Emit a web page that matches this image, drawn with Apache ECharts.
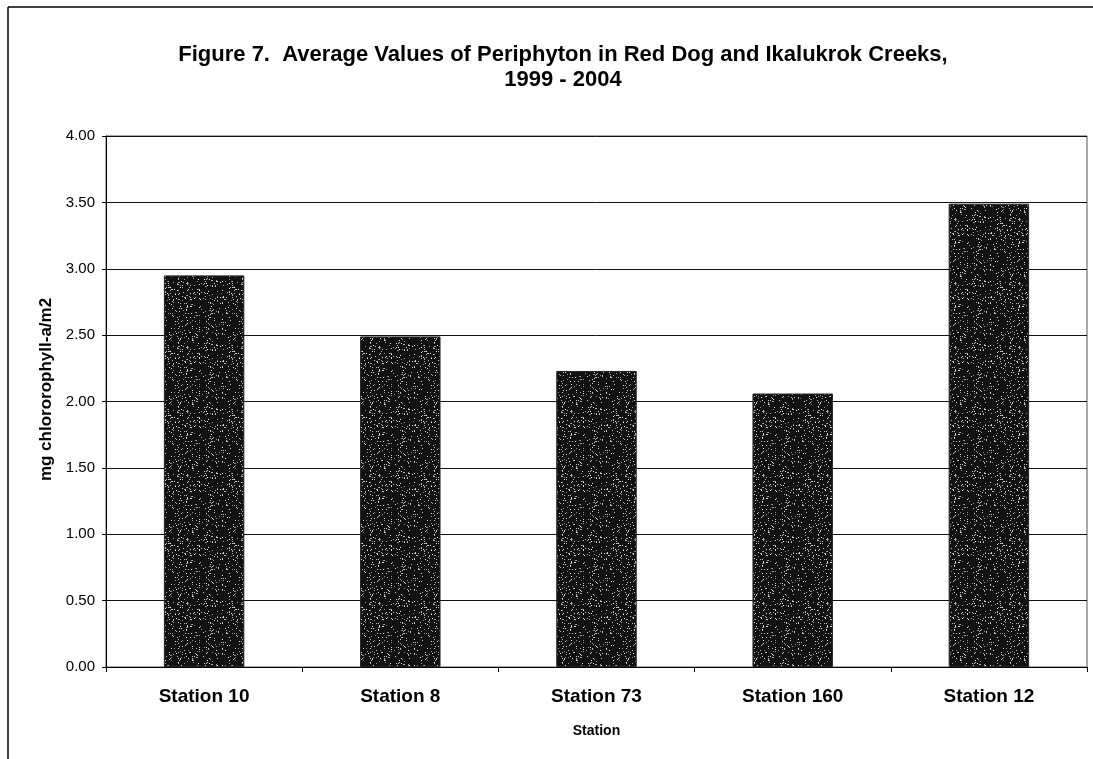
<!DOCTYPE html>
<html>
<head>
<meta charset="utf-8">
<script src="https://cdn.jsdelivr.net/npm/echarts@6/dist/echarts.min.js"></script>
<style>
  html, body { margin: 0; padding: 0; background: #fff; }
  #chart { width: 1093px; height: 759px; }
</style>
</head>
<body>
<div id="chart"></div>
<script>
// Average periphyton (mg chlorophyll-a/m2) per station, 1999 - 2004
const stations = ['Station 10', 'Station 8', 'Station 73', 'Station 160', 'Station 12'];
const avgChlorophyll = [2.95, 2.49, 2.23, 2.06, 3.49];
const titleLines = ['Figure 7.  Average Values of Periphyton in Red Dog and Ikalukrok Creeks,', '1999 - 2004'];

// Stippled dark fill for the bars
function stippleTile() {
  const size = 64;
  const c = document.createElement('canvas');
  c.width = size; c.height = size;
  const ctx = c.getContext('2d');
  ctx.fillStyle = '#121212';
  ctx.fillRect(0, 0, size, size);
  let s = 12345;
  const next = () => { s = (s * 1103515245 + 12345) % 2147483648; return s / 2147483648; };
  for (let i = 0; i < 380; i++) {
    const x = Math.floor(next() * size);
    const y = Math.floor(next() * size);
    const g = 130 + Math.floor(next() * 110);
    ctx.fillStyle = 'rgb(' + g + ',' + g + ',' + g + ')';
    ctx.fillRect(x, y, 1, 1);
  }
  return c;
}

const font = '"Liberation Sans", Arial, sans-serif';
const titleStyle = { fontFamily: font, fontWeight: 'bold', fontSize: 22, color: '#000' };
const chart = echarts.init(document.getElementById('chart'), null, { renderer: 'canvas' });

chart.setOption({
  backgroundColor: '#fff',
  animation: false,
  title: [
    { text: titleLines[0], left: 558, textAlign: 'center', top: 39, textStyle: titleStyle },
    { text: titleLines[1], left: 558, textAlign: 'center', top: 64, textStyle: titleStyle }
  ],
  grid: { left: 106, right: 6, top: 136, bottom: 92, show: true, borderColor: '#555', borderWidth: 1 },
  xAxis: {
    type: 'category',
    data: stations,
    name: 'Station',
    nameLocation: 'middle',
    nameGap: 57,
    nameTextStyle: { fontFamily: font, fontWeight: 'bold', fontSize: 14, color: '#000' },
    axisLine: { lineStyle: { color: '#000', width: 1 } },
    axisTick: { show: true, alignWithLabel: false, length: 5, lineStyle: { color: '#000' } },
    axisLabel: { fontFamily: font, fontWeight: 'bold', fontSize: 19, color: '#000', margin: 20 }
  },
  yAxis: {
    type: 'value',
    min: 0, max: 4, interval: 0.5,
    name: 'mg chlororophyll-a/m2',
    nameLocation: 'middle',
    nameGap: 50,
    nameTextStyle: { fontFamily: font, fontWeight: 'bold', fontSize: 17, color: '#000',
      padding: [0, 0, 0, 24] },
    axisLine: { show: true, lineStyle: { color: '#000', width: 1 } },
    axisTick: { show: true, length: 4, lineStyle: { color: '#000' } },
    axisLabel: { fontFamily: font, fontSize: 15, color: '#000', margin: 11,
      formatter: v => v.toFixed(2) },
    splitLine: { show: true, lineStyle: { color: '#111', width: 1 } }
  },
  series: [{
    type: 'bar',
    data: avgChlorophyll,
    barWidth: '41%',
    itemStyle: {
      color: { image: stippleTile(), repeat: 'repeat' },
      borderColor: '#222', borderWidth: 1
    }
  }],
  graphic: [
    { type: 'line', shape: { x1: 8, y1: 7, x2: 1093, y2: 7 }, style: { stroke: '#000', lineWidth: 1.5 } },
    { type: 'line', shape: { x1: 8, y1: 7, x2: 8, y2: 759 }, style: { stroke: '#000', lineWidth: 1.5 } }
  ]
});
</script>
</body>
</html>
